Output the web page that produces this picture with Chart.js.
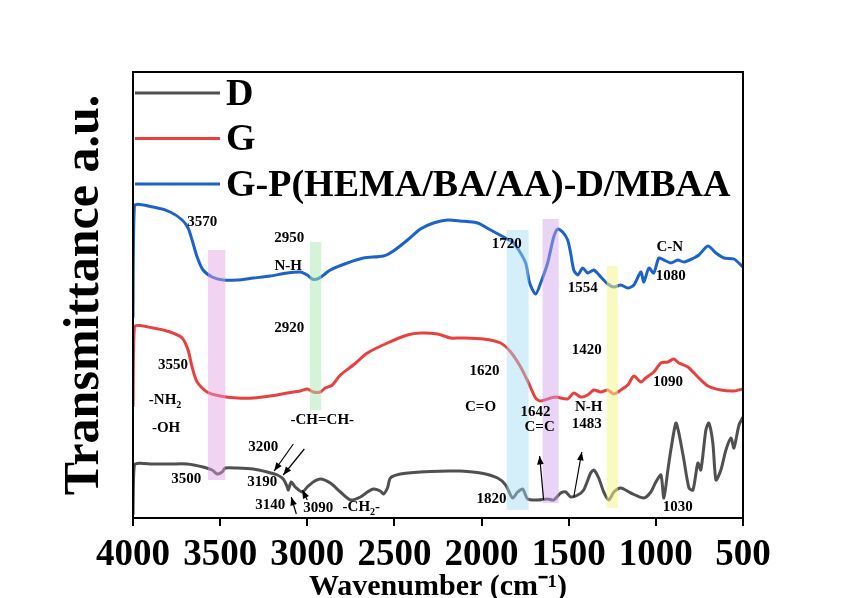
<!DOCTYPE html>
<html>
<head>
<meta charset="utf-8">
<script src="https://cdn.jsdelivr.net/npm/chart.js@4.4.0/dist/chart.umd.min.js"></script>
<style>body{margin:0;background:#fff}</style>
</head>
<body>
<canvas id="myChart" width="850" height="598"></canvas>
<script>
/* global Chart */

const SERIF = "'Liberation Serif', 'Times New Roman', serif";

// D (gray)
const dWave = [4000, 3992, 3885, 3787, 3690, 3598, 3546, 3517, 3489, 3471, 3402, 3310, 3230, 3172, 3138, 3115, 3109, 3092, 3069, 3029, 3000, 2966, 2925, 2868, 2810, 2753, 2695, 2655, 2621, 2581, 2563, 2540, 2523, 2466, 2351, 2178, 2121, 2006, 1908, 1862, 1822, 1793, 1764, 1736, 1678, 1621, 1586, 1546, 1517, 1489, 1448, 1414, 1374, 1356, 1328, 1299, 1270, 1241, 1201, 1144, 1069, 1029, 1000, 971, 954, 931, 914, 885, 868, 839, 810, 787, 759, 742, 713, 696, 673, 655, 627, 598, 569, 552, 523, 500];
const dTrans = [3, 53, 54, 54, 54, 51, 48, 44, 46, 50, 50, 49, 46, 43, 39, 31, 28, 36, 31, 26, 31, 36, 39, 35, 26, 18, 21, 26, 29, 27, 24, 30, 40, 44, 46, 47, 47, 45, 40, 33, 20, 26, 29, 19, 18, 19, 18, 25, 26, 21, 23, 28, 45, 48, 40, 26, 18, 26, 30, 25, 20, 26, 36, 43, 20, 48, 68, 95, 85, 58, 30, 28, 55, 48, 88, 95, 75, 38, 48, 68, 80, 70, 93, 101];

// G (red)
const gWave = [4000, 3992, 3885, 3787, 3718, 3684, 3661, 3632, 3575, 3500, 3402, 3310, 3213, 3115, 3040, 3000, 2966, 2925, 2897, 2856, 2810, 2736, 2655, 2540, 2425, 2351, 2253, 2178, 2121, 1989, 1891, 1833, 1776, 1730, 1690, 1661, 1604, 1575, 1506, 1471, 1431, 1391, 1356, 1316, 1276, 1241, 1201, 1161, 1126, 1086, 1058, 1012, 971, 931, 897, 868, 816, 759, 701, 627, 552, 500];
const gTrans = [111, 191, 190, 186, 180, 168, 151, 136, 126, 122, 120, 120, 122, 125, 127, 129, 126, 126, 130, 133, 143, 153, 165, 175, 183, 185, 184, 180, 180, 179, 175, 166, 151, 135, 120, 117, 120, 121, 119, 125, 121, 123, 128, 126, 128, 124, 128, 133, 142, 136, 140, 146, 155, 156, 159, 155, 151, 141, 132, 128, 127, 129];

// G-P(HEMA/BA/AA)-D/MBAA (blue)
const bWave = [4000, 3992, 3885, 3787, 3718, 3684, 3661, 3632, 3598, 3546, 3483, 3402, 3310, 3213, 3115, 3040, 3000, 2971, 2943, 2914, 2868, 2770, 2678, 2563, 2506, 2425, 2351, 2276, 2195, 2121, 2023, 1948, 1874, 1822, 1787, 1747, 1724, 1690, 1661, 1621, 1586, 1563, 1535, 1506, 1489, 1471, 1448, 1420, 1391, 1356, 1316, 1276, 1241, 1201, 1161, 1126, 1086, 1069, 1040, 1012, 983, 954, 914, 874, 839, 782, 753, 701, 655, 609, 552, 500];
const bTrans = [200, 312, 311, 306, 298, 290, 278, 261, 248, 241, 238, 238, 240, 242, 245, 246, 243, 239, 239, 242, 248, 255, 260, 262, 267, 278, 289, 295, 298, 297, 295, 288, 281, 276, 268, 255, 235, 224, 235, 255, 281, 289, 286, 278, 265, 248, 243, 250, 245, 248, 241, 234, 231, 233, 230, 233, 246, 236, 250, 245, 260, 258, 255, 258, 256, 260, 263, 272, 265, 260, 259, 251];

const seriesNames = ['D', 'G', 'G-P(HEMA/BA/AA)-D/MBAA'];
const seriesColors = ['#505050', '#e8403f', '#1c63c9'];
const xTicks = [4000, 3500, 3000, 2500, 2000, 1500, 1000, 500];

// highlighted regions: [from, to, low, high]
const bands = [
  [3570, 3470, 38, 268, 'rgba(226,160,226,0.45)'],
  [2985, 2920, 108, 276, 'rgba(170,232,180,0.5)'],
  [1856, 1730, 8, 288, 'rgba(160,220,245,0.45)'],
  [1650, 1558, 15, 299, 'rgba(206,160,232,0.45)'],
  [1282, 1218, 10, 252, 'rgba(245,245,140,0.55)']
];

// peak labels
const labelText = ['3570', '2950', 'N-H', '2920', '3550', '-NH_2', '-OH', '-CH=CH-', '1720', '1554', 'C-N', '1080', '1620', 'C=O', '1642', 'C=C', '1420', 'N-H', '1483', '1090', '3500', '3200', '3190', '3140', '3090', '-CH_2-', '1820', '1030'];
const labelWave = [3603, 3103, 3109, 3103, 3770, 3816, 3810, 2914, 1856, 1420, 920, 914, 1983, 2006, 1690, 1667, 1397, 1385, 1397, 931, 3695, 3253, 3259, 3213, 2937, 2690, 1943, 874];
const labelTrans = [296, 280, 252, 190, 153, 118, 90, 98, 274, 230, 271, 242, 147, 111, 106, 91, 168, 111, 94, 136, 39, 71, 36, 13, 10, 11, 19, 11];

// arrows: [fromWave, fromTrans, toWave, toTrans]
const arrows = [
  [3080, 74, 3190, 47],
  [3017, 69, 3138, 43],
  [3063, 4, 3092, 21],
  [3000, 18, 3029, 28],
  [1644, 18, 1667, 62],
  [1471, 21, 1425, 66]
];

function toPoints(xs, ys) {
  return xs.map((x, i) => ({ x: x, y: ys[i] }));
}

const bandPlugin = {
  id: 'bands',
  afterDatasetsDraw(chart) {
    const ctx = chart.ctx, xs = chart.scales.x, ys = chart.scales.y;
    ctx.save();
    bands.forEach(b => {
      const x1 = xs.getPixelForValue(b[0]), x2 = xs.getPixelForValue(b[1]);
      const y1 = ys.getPixelForValue(b[3]), y2 = ys.getPixelForValue(b[2]);
      ctx.fillStyle = b[4];
      ctx.fillRect(x1, y1, x2 - x1, y2 - y1);
    });
    ctx.restore();
  }
};

function drawLabel(ctx, text, x, y) {
  const parts = text.split('_');
  ctx.textBaseline = 'middle';
  if (parts.length === 1) {
    ctx.textAlign = 'center';
    ctx.fillText(text, x, y);
    return;
  }
  const main = parts[0], sub = parts[1][0], rest = parts[1].slice(1);
  const big = 'bold 15px ' + SERIF, small = 'bold 10px ' + SERIF;
  ctx.font = big;
  const w1 = ctx.measureText(main).width, w3 = ctx.measureText(rest).width;
  ctx.font = small;
  const w2 = ctx.measureText(sub).width;
  let sx = x - (w1 + w2 + w3) / 2;
  ctx.textAlign = 'left';
  ctx.font = big;
  ctx.fillText(main, sx, y);
  ctx.font = small;
  ctx.fillText(sub, sx + w1, y + 5);
  ctx.font = big;
  ctx.fillText(rest, sx + w1 + w2, y);
}

const notePlugin = {
  id: 'notes',
  afterDraw(chart) {
    const ctx = chart.ctx, xs = chart.scales.x, ys = chart.scales.y, a = chart.chartArea;
    ctx.save();
    // frame
    ctx.strokeStyle = '#000';
    ctx.lineWidth = 2;
    ctx.strokeRect(a.left, a.top, a.right - a.left, a.bottom - a.top);

    // labels
    ctx.fillStyle = '#000';
    labelText.forEach((t, i) => {
      ctx.font = 'bold 15px ' + SERIF;
      drawLabel(ctx, t, xs.getPixelForValue(labelWave[i]), ys.getPixelForValue(labelTrans[i]));
    });

    // arrows
    ctx.lineWidth = 1.2;
    arrows.forEach(ar => {
      const x1 = xs.getPixelForValue(ar[0]), y1 = ys.getPixelForValue(ar[1]);
      const x2 = xs.getPixelForValue(ar[2]), y2 = ys.getPixelForValue(ar[3]);
      const ang = Math.atan2(y2 - y1, x2 - x1);
      ctx.beginPath();
      ctx.moveTo(x1, y1);
      ctx.lineTo(x2, y2);
      ctx.stroke();
      ctx.beginPath();
      ctx.moveTo(x2, y2);
      ctx.lineTo(x2 - 9 * Math.cos(ang - 0.38), y2 - 9 * Math.sin(ang - 0.38));
      ctx.lineTo(x2 - 9 * Math.cos(ang + 0.38), y2 - 9 * Math.sin(ang + 0.38));
      ctx.closePath();
      ctx.fill();
    });

    // legend inside the frame
    chart.data.datasets.forEach((ds, i) => {
      const y = a.top + 21 + i * 45.5;
      ctx.strokeStyle = ds.borderColor;
      ctx.lineWidth = 3;
      ctx.beginPath();
      ctx.moveTo(a.left + 2, y);
      ctx.lineTo(a.left + 87, y);
      ctx.stroke();
      ctx.fillStyle = '#000';
      ctx.font = 'bold 38px ' + SERIF;
      ctx.textAlign = 'left';
      ctx.textBaseline = 'middle';
      ctx.fillText(ds.label, a.left + 93, y + 2);
    });
    ctx.restore();
  }
};

const ctx = document.getElementById('myChart').getContext('2d');
const myChart = new Chart(ctx, {
  type: 'line',
  data: {
    datasets: [
      { label: seriesNames[0], data: toPoints(dWave, dTrans), borderColor: seriesColors[0] },
      { label: seriesNames[1], data: toPoints(gWave, gTrans), borderColor: seriesColors[1] },
      { label: seriesNames[2], data: toPoints(bWave, bTrans), borderColor: seriesColors[2] }
    ]
  },
  options: {
    responsive: false,
    animation: false,
    datasets: {
      line: { borderWidth: 3, pointRadius: 0, tension: 0.25, fill: false }
    },
    layout: { padding: { top: 72, right: 107, left: 0, bottom: 0 } },
    plugins: {
      legend: { display: false },
      tooltip: { enabled: false }
    },
    scales: {
      x: {
        type: 'linear',
        reverse: true,
        min: 500,
        max: 4000,
        afterFit: s => { s.height = 80; },
        afterBuildTicks: s => { s.ticks = xTicks.map(v => ({ value: v })); },
        ticks: {
          color: '#000',
          padding: 7,
          maxRotation: 0,
          autoSkip: false,
          callback: v => String(v),
          font: { family: SERIF, size: 37, weight: 'bold' }
        },
        grid: { display: true, drawOnChartArea: false, drawTicks: true, tickLength: 8, color: '#000', lineWidth: 2 },
        border: { display: true, color: '#000', width: 2 },
        title: {
          display: true,
          text: 'Wavenumber (cm\u207B\u00B9)',
          color: '#000',
          font: { family: SERIF, size: 30, weight: 'bold' },
          padding: { top: 0, bottom: -7 }
        }
      },
      y: {
        min: 0,
        max: 446,
        afterFit: s => { s.width = 133; },
        ticks: { display: false },
        grid: { display: false },
        border: { display: true, color: '#000', width: 2 },
        title: {
          display: true,
          text: 'Transmittance a.u.',
          color: '#000',
          font: { family: SERIF, size: 50, weight: 'bold' },
          padding: { top: 55, bottom: 0 }
        }
      }
    }
  },
  plugins: [bandPlugin, notePlugin]
});
</script>
</body>
</html>
